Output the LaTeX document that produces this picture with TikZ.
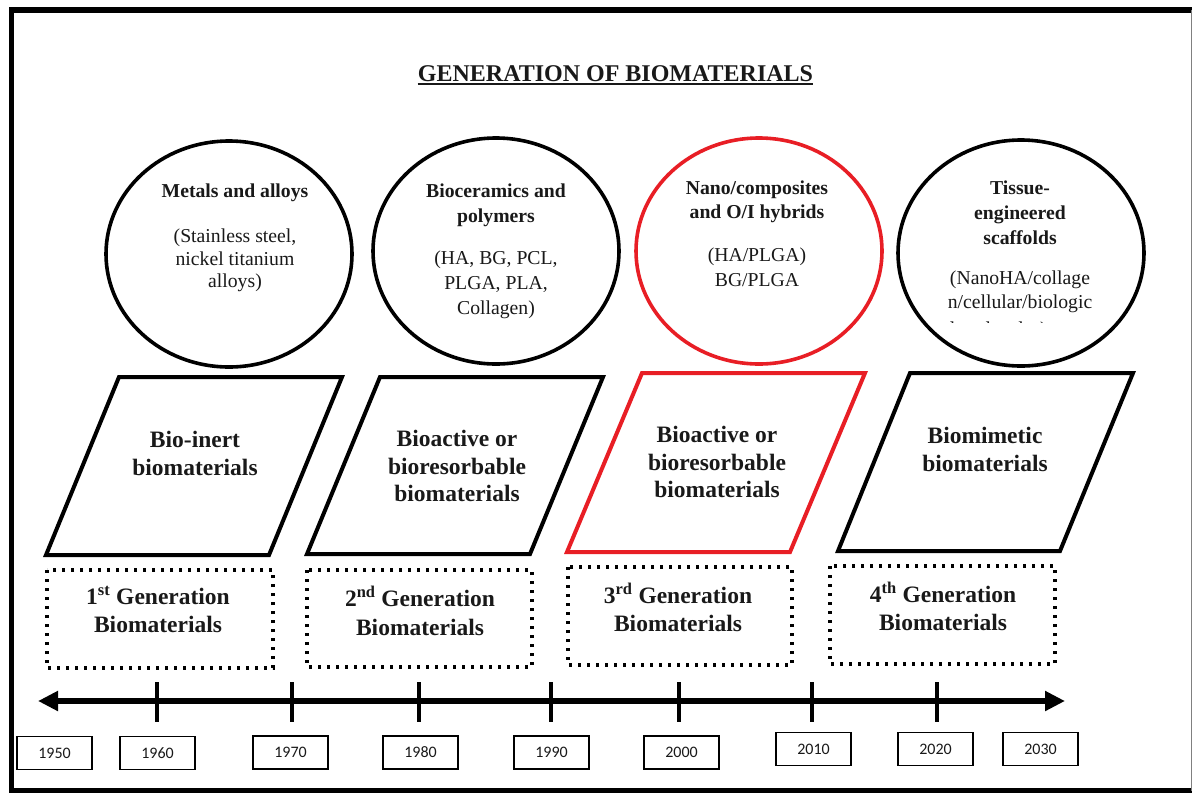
\documentclass[tikz,border=0pt]{standalone}
\usepackage{fontspec}
\setmainfont{Liberation Serif}
\newfontfamily\yearfont{Carlito}
\usetikzlibrary{shapes.geometric,arrows.meta}
\definecolor{myred}{RGB}{232,30,37}
\definecolor{ink}{RGB}{25,25,25}
\begin{document}
\begin{tikzpicture}[x=1pt,y=-1pt,
  circ/.style={ellipse,draw,line width=3.6pt,minimum width=246pt,minimum height=226pt,inner sep=0},
  para/.style={line width=4pt,line join=miter},
  dotbox/.style={line width=3.6pt,dash pattern=on 3.4pt off 5.6pt},
  ctitle/.style={font=\fontsize{19.7}{25}\selectfont\bfseries,align=center,inner sep=0,text=ink},
  cbody/.style={font=\fontsize{19.7}{25}\selectfont,align=center,inner sep=0,text=ink},
  ptext/.style={font=\fontsize{23.5}{27.5}\selectfont\bfseries,align=center,inner sep=0,text=ink},
  btext/.style={font=\fontsize{23.5}{28.5}\selectfont\bfseries,align=center,inner sep=0,text=ink},
  ybox/.style={draw,line width=1.3pt,minimum width=75pt,minimum height=33pt,inner sep=0,
     font=\yearfont\fontsize{16}{18}\selectfont,text=ink},
  tick/.style={line width=4pt},
  axis/.style={line width=5.5pt,{Triangle[length=20pt,width=19pt]}-{Triangle[length=20pt,width=19pt]}}
]
\useasboundingbox (0,0) rectangle (1193,793);
\fill[white] (0,0) rectangle (1193,793);
% frame
\draw[line width=5.5pt] (1192,10) -- (11.5,10) -- (11.5,790.5) -- (1192,790.5);
\draw[line width=1pt,gray] (1191.5,10) -- (1191.5,790.5);

% title
\node[font=\fontsize{24}{28}\selectfont\bfseries,inner sep=0,anchor=base,text=ink] (title) at (615.5,81) {GENERATION OF BIOMATERIALS};
\draw[line width=1.8pt,ink] ([yshift=-3pt]title.base west) -- ([yshift=-3pt]title.base east);

% circles
\node[circ] (c1) at (229,254) {};
\node[circ] (c2) at (496,251) {};
\node[circ,draw=myred] (c3) at (759,251) {};
\node[circ] (c4) at (1021,253) {};

\node[ctitle] (c1a) at (235,193) {Metals and alloys};
\node[cbody,font=\fontsize{19.7}{22.6}\selectfont] (c1b) at (235,260.5) {(Stainless steel,\\nickel titanium\\alloys)};

\node[ctitle] (c2a) at (496,205.5) {Bioceramics and\\polymers};
\node[cbody] (c2b) at (496,285) {(HA, BG, PCL,\\PLGA, PLA,\\Collagen)};

\node[ctitle,font=\fontsize{19.7}{24}\selectfont\bfseries] (c3a) at (757,202) {Nano/composites\\and O/I hybrids};
\node[cbody] (c3b) at (757,267.5) {(HA/PLGA)\\BG/PLGA};

\node[ctitle] (c4a) at (1020,213) {Tissue-\\engineered\\scaffolds};
\node[cbody,font=\fontsize{19.7}{24}\selectfont] (c4b) at (1020,292) {(NanoHA/collage\\n/cellular/biologic};
\begin{scope}
  \clip (900,300) rectangle (1140,322);
  \node[cbody,anchor=base west] (c4c) at (941,335) {al molecules)};
\end{scope}

% parallelograms
\draw[para] (119,377) -- (342,377) -- (269,555) -- (46,555) -- cycle;
\draw[para] (380,377) -- (603,377) -- (530,554) -- (307,554) -- cycle;
\draw[para,draw=myred] (642,373) -- (865,373) -- (790,552) -- (567,552) -- cycle;
\draw[para] (910,373) -- (1133,373) -- (1060,551) -- (838,551) -- cycle;

\node[ptext] (p1) at (195,453.5) {Bio-inert\\biomaterials};
\node[ptext] (p2) at (457,466) {Bioactive or\\bioresorbable\\biomaterials};
\node[ptext] (p3) at (717,462) {Bioactive or\\bioresorbable\\biomaterials};
\node[ptext] (p4) at (985,449.5) {Biomimetic\\biomaterials};

% dotted generation boxes
\draw[dotbox] (47,570) rectangle (273,668);
\draw[dotbox] (307,570) rectangle (532,667);
\draw[dotbox] (568,567) rectangle (792,665);
\draw[dotbox] (830,566) rectangle (1055,664);

\node[btext] (g1) at (158,609.5) {1\textsuperscript{st} Generation\\Biomaterials};
\node[btext] (g2) at (420,611) {2\textsuperscript{nd} Generation\\Biomaterials};
\node[btext] (g3) at (678,607.5) {3\textsuperscript{rd} Generation\\Biomaterials};
\node[btext] (g4) at (943,606.5) {4\textsuperscript{th} Generation\\Biomaterials};

% timeline
\coordinate (tl) at (38,701);
\coordinate (tr) at (1065,701);
\draw[axis] (tl) -- (tr);
\foreach \x in {157,292,419,551,679,812,937}{
  \draw[tick] (\x,682) -- (\x,722);
}

% year boxes
\node[ybox] (y1950) at (54.5,753) {1950};
\node[ybox] (y1960) at (157.5,753) {1960};
\node[ybox] (y1970) at (290.5,752.5) {1970};
\node[ybox] (y1980) at (420.5,752.5) {1980};
\node[ybox] (y1990) at (551.5,752.5) {1990};
\node[ybox] (y2000) at (681.5,752.5) {2000};
\node[ybox] (y2010) at (813.5,749) {2010};
\node[ybox] (y2020) at (935.5,749) {2020};
\node[ybox] (y2030) at (1040.5,749) {2030};
\end{tikzpicture}
\end{document}
